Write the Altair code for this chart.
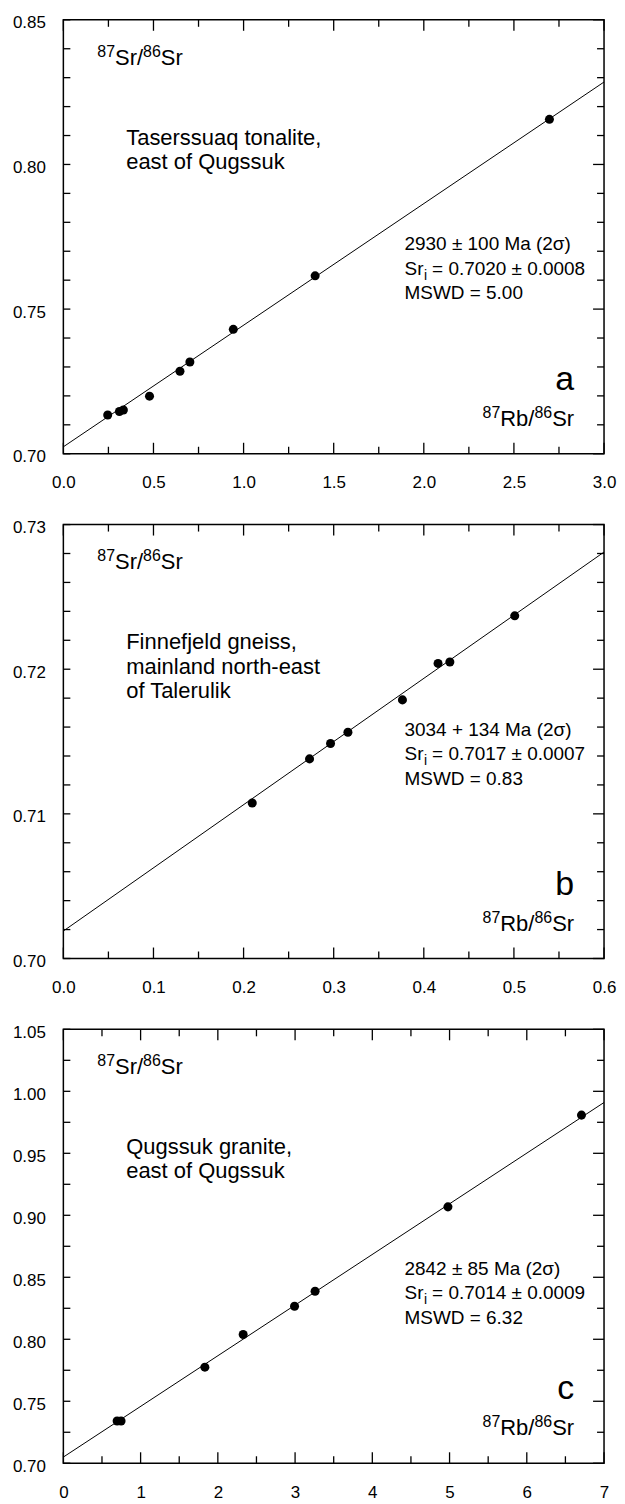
import altair as alt
import pandas as pd

# ---------------- data ----------------
# Panel a: Taserssuaq tonalite
a_rb = [0.246, 0.311, 0.333, 0.478, 0.647, 0.702, 0.943, 1.397, 2.697]
a_sr = [0.7134, 0.7146, 0.7151, 0.7199, 0.7285, 0.7317, 0.7430, 0.7615, 0.8156]
a_line_x = [0.0, 3.0]
a_line_y = [0.7024, 0.8285]
a_x_major = [0.0, 0.5, 1.0, 1.5, 2.0, 2.5, 3.0]
a_x_minor = [0.25, 0.75, 1.25, 1.75, 2.25, 2.75]
a_y_major = [0.70, 0.75, 0.80, 0.85]
a_y_minor = [0.71, 0.72, 0.73, 0.74, 0.76, 0.77, 0.78, 0.79, 0.81, 0.82, 0.83, 0.84]
a_title = ["Taserssuaq tonalite,", "east of Qugssuk"]
a_stats = ["2930 ± 100 Ma (2σ)", "= 0.7020 ± 0.0008", "MSWD = 5.00"]
a_letter = "a"

# Panel b: Finnefjeld gneiss
b_rb = [0.2096, 0.2732, 0.2965, 0.3158, 0.3763, 0.4158, 0.4289, 0.5009]
b_sr = [0.71075, 0.7138, 0.71486, 0.71564, 0.71788, 0.7204, 0.7205, 0.72369]
b_line_x = [0.0, 0.6]
b_line_y = [0.7019, 0.7281]
b_x_major = [0.0, 0.1, 0.2, 0.3, 0.4, 0.5, 0.6]
b_x_minor = [0.05, 0.15, 0.25, 0.35, 0.45, 0.55]
b_y_major = [0.70, 0.71, 0.72, 0.73]
b_y_minor = [0.702, 0.704, 0.706, 0.708, 0.712, 0.714, 0.716, 0.718,
             0.722, 0.724, 0.726, 0.728]
b_title = ["Finnefjeld gneiss,", "mainland north-east", "of Talerulik"]
b_stats = ["3034 + 134 Ma (2σ)", "= 0.7017 ± 0.0007", "MSWD = 0.83"]
b_letter = "b"

# Panel c: Qugssuk granite
c_rb = [0.696, 0.747, 1.832, 2.328, 2.993, 3.259, 4.979, 6.708]
c_sr = [0.7341, 0.7341, 0.7775, 0.8038, 0.8266, 0.8387, 0.9068, 0.9808]
c_line_x = [0.0, 7.0]
c_line_y = [0.705, 0.991]
c_x_major = [0, 1, 2, 3, 4, 5, 6, 7]
c_x_minor = [0.5, 1.5, 2.5, 3.5, 4.5, 5.5, 6.5]
c_y_major = [0.70, 0.75, 0.80, 0.85, 0.90, 0.95, 1.00, 1.05]
c_y_minor = [0.725, 0.775, 0.825, 0.875, 0.925, 0.975, 1.025]
c_title = ["Qugssuk granite,", "east of Qugssuk"]
c_stats = ["2842 ± 85 Ma (2σ)", "= 0.7014 ± 0.0009", "MSWD = 6.32"]
c_letter = "c"

# ---------------- layout constants ----------------
W, H = 542, 435
FONT = "Liberation Sans"
MAJ, MIN, LEFT_T = 11, 7, 7
MAIN, SUP, STAT, LETTER = 22, 16, 19, 34

# Arial / Liberation Sans advance widths (em)
ADV = {"0": .556, "1": .556, "2": .556, "3": .556, "4": .556, "5": .556,
       "6": .556, "7": .556, "8": .556, "9": .556, "S": .667, "r": .333,
       "/": .278, "R": .722, "b": .556, "i": .222}


def tw(s, size):
    return sum(ADV.get(ch, .556) for ch in s) * size


def text_layer(s, px, py, size, align="left"):
    return alt.Chart(pd.DataFrame({"t": [s]})).mark_text(
        align=align, baseline="alphabetic", fontSize=size, font=FONT, color="black"
    ).encode(x=alt.value(px), y=alt.value(py), text="t:N")


def ratio_label(num, den, px, py, align="left"):
    pieces = [(num[0], SUP, -8), (num[1], MAIN, 0), (den[0], SUP, -8), (den[1], MAIN, 0)]
    total = sum(tw(s, sz) for s, sz, _ in pieces)
    x = px if align == "left" else px - total
    layers = []
    for s, sz, dy in pieces:
        layers.append(text_layer(s, x, py + dy, sz))
        x += tw(s, sz)
    return layers


def panel(rb, sr, lx, ly, xmaj, xmin, ymaj, ymin, xfmt, title, stats, stat_y, letter):
    xdom = [xmaj[0], xmaj[-1]]
    ydom = [ymaj[0], ymaj[-1]]
    X = alt.X("x:Q", scale=alt.Scale(domain=xdom, nice=False, zero=False),
              axis=alt.Axis(values=xmaj, format=xfmt, labelPadding=21, tickSize=0,
                            labelFlush=False),
              title=None)
    Y = alt.Y("y:Q", scale=alt.Scale(domain=ydom, nice=False, zero=False),
              axis=alt.Axis(values=ymaj, format=".2f", labelPadding=18, tickSize=0,
                            labelOffset=3, labelFlush=False),
              title=None)

    pts = alt.Chart(pd.DataFrame({"x": rb, "y": sr})).mark_circle(
        size=82, color="black", opacity=1).encode(x=X, y=Y)
    line = alt.Chart(pd.DataFrame({"x": lx, "y": ly})).mark_line(
        color="black", strokeWidth=1).encode(x=X, y=Y)

    layers = [line, pts]
    # inward ticks on all four sides
    for vals, ln in [(xmaj, MAJ), (xmin, MIN)]:
        d = pd.DataFrame({"x": vals})
        layers.append(alt.Chart(d).mark_rule(color="black", strokeWidth=1.3).encode(
            x=X, y=alt.value(H), y2=alt.value(H - ln)))
        layers.append(alt.Chart(d).mark_rule(color="black", strokeWidth=1.3).encode(
            x=X, y=alt.value(0), y2=alt.value(ln)))
    for vals, ln in [(ymaj, MAJ), (ymin, MIN)]:
        d = pd.DataFrame({"y": vals})
        layers.append(alt.Chart(d).mark_rule(color="black", strokeWidth=1.3).encode(
            y=Y, x=alt.value(W), x2=alt.value(W - ln)))
        layers.append(alt.Chart(d).mark_rule(color="black", strokeWidth=1.3).encode(
            y=Y, x=alt.value(0), x2=alt.value(LEFT_T)))

    # annotations
    layers += ratio_label(("87", "Sr/"), ("86", "Sr"), 34, 45, "left")
    for i, t in enumerate(title):
        layers.append(text_layer(t, 63, 125 + 24.5 * i, MAIN))
    sx = 342
    layers.append(text_layer(stats[0], sx, stat_y, STAT))
    layers.append(text_layer("Sr", sx, stat_y + 24.5, STAT))
    layers.append(text_layer("i", sx + tw("Sr", STAT) + 0.5, stat_y + 24.5 + 5, 14))
    layers.append(text_layer(stats[1], sx + tw("Sr", STAT) + tw("i", 14) + 5.5,
                             stat_y + 24.5, STAT))
    layers.append(text_layer(stats[2], sx, stat_y + 49, STAT))
    layers.append(text_layer(letter, 512, 371, LETTER, "right"))
    layers += ratio_label(("87", "Rb/"), ("86", "Sr"), 512, 407, "right")

    return alt.layer(*layers).properties(width=W, height=H)


pa = panel(a_rb, a_sr, a_line_x, a_line_y, a_x_major, a_x_minor, a_y_major, a_y_minor,
           ".1f", a_title, a_stats, 231, a_letter)
pb = panel(b_rb, b_sr, b_line_x, b_line_y, b_x_major, b_x_minor, b_y_major, b_y_minor,
           ".1f", b_title, b_stats, 212, b_letter)
pc = panel(c_rb, c_sr, c_line_x, c_line_y, c_x_major, c_x_minor, c_y_major, c_y_minor,
           "d", c_title, c_stats, 246, c_letter)

chart = alt.vconcat(pa, pb, pc, spacing=71, bounds="flush").properties(
    padding={"left": 3.5, "top": 3, "right": 0, "bottom": 0}
).configure_view(
    stroke="black", strokeWidth=1.5
).configure_axis(
    labelFont=FONT, labelFontSize=17, labelColor="black",
    ticks=False, domain=False, grid=False
)

chart.save("out.html", embed_options={"renderer": "svg", "actions": False})
